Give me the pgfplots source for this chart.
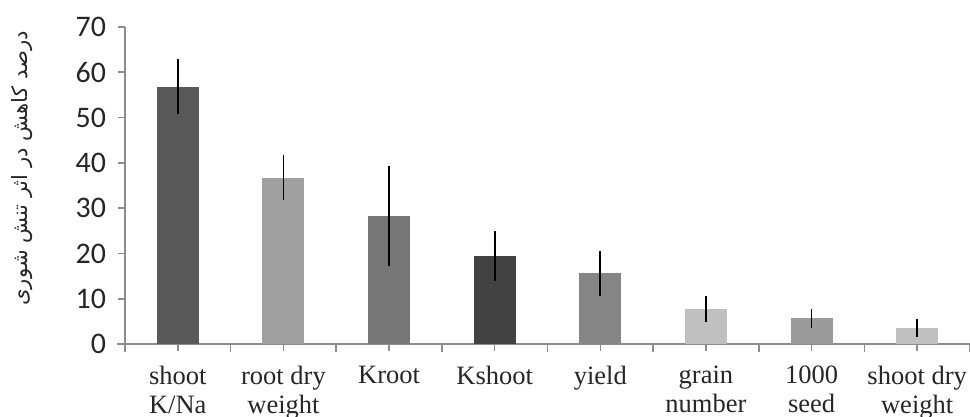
\documentclass[border=0pt]{standalone}
\usepackage{fontspec}
\setmainfont{Liberation Serif}
\newfontfamily\carlito{Carlito}
\newfontfamily\arabicfont[Script=Arabic]{DejaVu Sans}
\TeXXeTstate=1
\usepackage{pgfplots}
\pgfplotsset{compat=1.18}
\definecolor{axgray}{HTML}{8C8C8C}
\definecolor{txtgray}{HTML}{262626}
\begin{document}
\begin{tikzpicture}
\begin{axis}[
  at={(0,0)}, anchor=south west,
  scale only axis=true,
  width=422.5bp, height=158.5bp,
  ymin=0, ymax=70,
  xmin=-0.5, xmax=7.5,
  ytick={0,10,...,70},
  xtick={0,...,7},
  minor xtick={-0.5,0.5,...,7.5},
  xticklabels={{shoot\\K/Na},{root dry\\weight},{Kroot},{Kshoot},{yield},{grain\\number},{1000\\seed},{shoot dry\\weight}},
  axis x line=bottom, axis y line=left,
  axis line style={axgray, line width=0.8bp, -},
  x axis line style={shorten <=-4bp},
  tick style={axgray, line width=0.8bp},
  tick align=outside,
  major tick length=3.5bp,
  minor tick length=4bp,
  /pgf/number format/assume math mode=true,
  yticklabel style={font=\carlito\fontsize{15}{15}\selectfont, text=txtgray, xshift=-2.5bp},
  xticklabel style={font=\fontsize{13.3}{14.5}\selectfont, text=txtgray, align=center, yshift=-4bp},
  ylabel={\arabicfont\beginR درصد کاهش در اثر تنش شوری\endR},
  ylabel style={at={(axis description cs:0,0.5)}, anchor=center, rotate=0, xshift=8.5bp, yshift=51.5bp, font=\fontsize{10.6}{10.6}\selectfont, text=txtgray},
  ybar, bar width=21bp, bar shift=0pt,
  every axis plot/.append style={draw=none},
  error bars/y dir=both, error bars/y explicit,
  error bars/error mark=none,
  error bars/error bar style={black, line width=0.9bp},
  clip=false,
]
\addplot[fill={rgb,255:red,89;green,89;blue,89}] coordinates {(0,56.8) +- (0,6.1)};
\addplot[fill={rgb,255:red,160;green,160;blue,160}] coordinates {(1,36.7) +- (0,5.0)};
\addplot[fill={rgb,255:red,118;green,118;blue,118}] coordinates {(2,28.3) +- (0,11.0)};
\addplot[fill={rgb,255:red,66;green,66;blue,66}] coordinates {(3,19.4) +- (0,5.5)};
\addplot[fill={rgb,255:red,134;green,134;blue,134}] coordinates {(4,15.6) +- (0,5.0)};
\addplot[fill={rgb,255:red,192;green,192;blue,192}] coordinates {(5,7.8) +- (0,2.9)};
\addplot[fill={rgb,255:red,155;green,155;blue,155}] coordinates {(6,5.7) +- (0,2.1)};
\addplot[fill={rgb,255:red,192;green,192;blue,192}] coordinates {(7,3.6) +- (0,2.0)};
\end{axis}
\pgfresetboundingbox
\path[use as bounding box] (-62.5bp,-36.5bp) rectangle (422.5bp,172bp);
\end{tikzpicture}
\end{document}
